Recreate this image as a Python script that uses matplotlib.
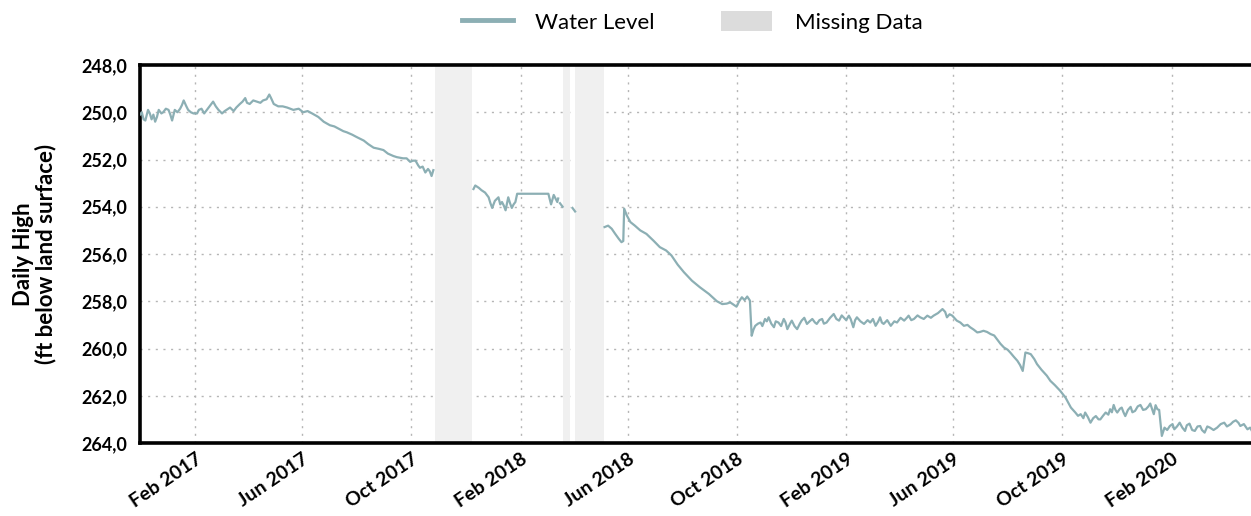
import matplotlib
matplotlib.use("Agg")
import matplotlib.pyplot as plt
import matplotlib.dates as mdates
from matplotlib.patches import Patch
from matplotlib.lines import Line2D
from matplotlib.ticker import FuncFormatter
import pandas as pd

plt.rcParams['font.family'] = ['Lato', 'DejaVu Sans']

START = "2016-12-01"

seg1_days = [0, 2, 4, 6, 9, 11, 13, 15, 17, 19, 21, 24, 26, 29, 32, 34, 36, 39, 42, 45,
             47, 49, 52, 54, 57, 60, 64, 66, 69, 72, 75, 78, 82, 85, 88, 92, 95, 97, 101,
             105, 108, 112, 115, 118, 120, 123, 127, 131, 135, 138, 142, 145, 147, 150,
             155, 160, 165, 172, 178, 183, 188, 193, 200, 206, 213, 218, 223, 228, 232,
             238, 243, 251, 256, 262, 268, 273, 278, 284, 288, 295, 299, 303, 306, 309,
             312, 314, 317, 320, 323, 325, 327, 329]
seg1_level = [250.1, 250.0, 250.3, 250.35, 249.9, 250.05, 250.3, 250.1, 250.4, 250.2,
              249.9, 250.05, 250.0, 249.85, 249.9, 250.1, 250.35, 249.9, 250.0, 249.85,
              249.7, 249.5, 249.75, 249.9, 250.0, 250.05, 250.05, 249.9, 249.85, 250.05,
              249.9, 249.75, 249.55, 249.75, 249.9, 250.05, 249.95, 249.9, 249.8, 249.95,
              249.8, 249.65, 249.55, 249.4, 249.6, 249.65, 249.5, 249.55, 249.6, 249.5,
              249.45, 249.25, 249.4, 249.65, 249.75, 249.75, 249.8, 249.9, 249.85, 250.0,
              249.95, 250.05, 250.2, 250.4, 250.55, 250.6, 250.7, 250.8, 250.85, 250.95,
              251.05, 251.2, 251.35, 251.5, 251.55, 251.6, 251.75, 251.85, 251.9, 251.95,
              251.95, 252.1, 252.05, 252.05, 252.25, 252.35, 252.3, 252.55, 252.4, 252.5,
              252.7, 252.45]

seg2_days = [374, 376, 378, 380, 383, 387, 391, 393, 395, 398, 402, 404, 406, 408, 410,
             413, 415, 417, 419, 421, 423, 426, 458, 461, 464, 468, 469]
seg2_level = [253.25, 253.1, 253.15, 253.2, 253.3, 253.4, 253.6, 253.85, 254.05, 253.75,
              253.6, 253.9, 253.8, 253.95, 254.15, 253.6, 253.85, 254.05, 253.9, 253.8,
              253.45, 253.45, 253.45, 253.9, 253.5, 253.8, 253.65]

dash1_days = [471, 474]
dash1_level = [253.85, 254.0]
dash2_days = [485, 488]
dash2_level = [254.05, 254.2]

seg3_days = [521, 525, 529, 533, 537, 540, 542, 543, 546, 550, 555, 561, 568, 576, 583,
             590, 596, 603, 610, 619, 628, 638, 647, 653, 658, 662, 666, 669, 672, 675,
             678, 681, 684, 686, 688, 690, 693, 696, 698, 701, 703, 705, 708, 711, 713,
             716, 719, 722, 724, 726, 729, 731, 734, 737, 740, 742, 745, 748, 751, 754,
             757, 759, 762, 765, 767, 770, 774, 778, 781, 784, 787, 789, 792, 795, 797,
             800, 802, 804, 808, 812, 816, 819, 822, 825, 828, 830, 832, 834, 838, 842,
             846, 849, 853, 857, 860, 862, 865, 868, 872, 875, 879, 883, 887, 890, 895,
             900, 903, 905, 908, 911, 916, 920, 924, 928, 931, 935, 939, 942, 946, 950,
             954, 958, 961, 965, 969, 973, 976, 980, 984, 987, 990, 993, 996, 999, 1003,
             1006, 1011, 1017, 1021, 1026, 1032, 1038, 1044, 1049, 1052, 1055, 1058, 1060,
             1063, 1066, 1069, 1072, 1075, 1077, 1080, 1083, 1086, 1088, 1090, 1092, 1094,
             1096, 1099, 1101, 1103, 1105, 1108, 1111, 1113, 1116, 1119, 1122, 1125, 1128,
             1131, 1133, 1135, 1137, 1139, 1141, 1143, 1146, 1149, 1152, 1155, 1158, 1160,
             1163, 1166, 1169, 1172, 1174, 1177, 1180, 1183, 1186, 1189, 1191, 1194, 1197,
             1200, 1204, 1208, 1212, 1216, 1219, 1223, 1226, 1229, 1232, 1234, 1238, 1242,
             1245, 1247]
seg3_level = [254.86, 254.8, 254.93, 255.15, 255.36, 255.5, 255.45, 254.08, 254.37, 254.65,
              254.8, 255.0, 255.15, 255.44, 255.71, 255.85, 256.06, 256.45, 256.77, 257.13,
              257.41, 257.69, 258.0, 258.12, 258.1, 258.05, 258.15, 258.23, 258.0, 257.83,
              257.95, 257.8, 257.97, 259.46, 259.2, 259.04, 258.95, 258.9, 259.05, 258.75,
              258.85, 258.68, 258.95, 259.1, 258.85, 258.9, 259.05, 258.75, 258.9, 259.18,
              258.95, 258.82, 259.05, 259.18, 258.95, 258.82, 258.7, 258.96, 258.85, 258.75,
              258.9, 258.96, 258.8, 258.75, 258.95, 258.9, 258.7, 258.54, 258.75, 258.82,
              258.6, 258.68, 258.8, 258.61, 258.75, 259.1, 258.8, 258.68, 258.85, 258.96,
              258.8, 258.9, 258.75, 259.04, 258.85, 258.68, 258.9, 258.96, 258.8, 259.04,
              258.85, 258.9, 258.7, 258.82, 258.7, 258.61, 258.8, 258.75, 258.6, 258.68,
              258.75, 258.61, 258.7, 258.61, 258.5, 258.33, 258.45, 258.68, 258.55, 258.61,
              258.82, 258.9, 259.04, 259.0, 259.1, 259.2, 259.32, 259.3, 259.25, 259.3,
              259.39, 259.45, 259.6, 259.8, 259.96, 260.05, 260.17, 260.35, 260.52, 260.7,
              260.95, 260.17, 260.2, 260.24, 260.45, 260.66, 260.9, 261.15, 261.37, 261.55,
              261.79, 262.08, 262.5, 262.71, 262.85, 262.78, 262.95, 262.71, 262.9, 263.14,
              262.95, 262.86, 263.0, 263.0, 262.85, 262.71, 262.8, 262.57, 262.7, 262.39,
              262.6, 262.71, 262.55, 262.5, 262.7, 262.86, 262.6, 262.47, 262.7, 262.64,
              262.45, 262.39, 262.6, 262.57, 262.45, 262.33, 262.55, 262.78, 262.4, 262.57,
              262.6, 263.7, 263.35, 263.45, 263.28, 263.2, 263.42, 263.3, 263.14, 263.35,
              263.49, 263.25, 263.18, 263.45, 263.49, 263.3, 263.28, 263.45, 263.56, 263.3,
              263.35, 263.45, 263.35, 263.2, 263.14, 263.3, 263.21, 263.1, 263.04, 263.15,
              263.28, 263.2, 263.42, 263.35, 263.49]

missing_start = ["2017-10-28", "2018-03-20", "2018-04-03"]
missing_end = ["2017-12-08", "2018-03-28", "2018-05-05"]

x_start = "2016-12-01"
x_end = "2020-04-30"
y_ticks = [248, 250, 252, 254, 256, 258, 260, 262, 264]

LINE_COLOR = "#8cafb4"
MISSING_COLOR = "#f0f0f0"

fig = plt.figure(figsize=(12.51, 5.16), dpi=100)
ax = fig.add_axes([140 / 1251, 1 - 443 / 516, 1 - 140 / 1251, (443 - 65) / 516])

base = pd.Timestamp(START)
for days, lev in [(seg1_days, seg1_level), (seg2_days, seg2_level),
                  (dash1_days, dash1_level), (dash2_days, dash2_level),
                  (seg3_days, seg3_level)]:
    d = base + pd.to_timedelta(days, unit="D")
    ax.plot(d, lev, color=LINE_COLOR, lw=1.6, solid_joinstyle="round", zorder=3)

for s, e in zip(missing_start, missing_end):
    ax.axvspan(pd.Timestamp(s), pd.Timestamp(e), color=MISSING_COLOR, lw=0, zorder=1)

ax.set_xlim(pd.Timestamp(x_start), pd.Timestamp(x_end))
ax.set_ylim(264, 248)
ax.set_yticks(y_ticks)
ax.yaxis.set_major_formatter(FuncFormatter(lambda v, p: f"{v:.1f}".replace(".", ",")))

ax.xaxis.set_major_locator(mdates.MonthLocator(bymonth=[2, 6, 10]))
ax.xaxis.set_major_formatter(mdates.DateFormatter("%b %Y"))

ax.grid(True, color="#b5b5b5", linestyle=(0, (1.5, 4)), linewidth=1.0, zorder=0)
ax.set_axisbelow(True)

for side in ["left", "top", "bottom"]:
    ax.spines[side].set_linewidth(2.6)
    ax.spines[side].set_color("black")
ax.spines["right"].set_visible(False)

ax.tick_params(axis="both", length=0)
ax.tick_params(axis="y", pad=9)
ax.tick_params(axis="x", pad=5)
for lab in ax.get_yticklabels():
    lab.set_fontsize(13)
    lab.set_fontweight("bold")
for lab in ax.get_xticklabels():
    lab.set_fontsize(14)
    lab.set_fontweight("bold")
    lab.set_rotation(34)
    lab.set_ha("right")
    lab.set_rotation_mode("anchor")

ax.set_ylabel("Daily High\n(ft below land surface)", fontsize=16, fontweight="bold",
              labelpad=18, linespacing=1.05)

handles = [Line2D([0], [0], color=LINE_COLOR, lw=3.5),
           Patch(facecolor="#dcdcdc", edgecolor="none")]
fig.legend(handles, ["Water Level", "Missing Data"], loc="center",
           bbox_to_anchor=(692 / 1251, 1 - 22 / 516), ncol=2, frameon=False,
           fontsize=16, handlelength=2.3, handleheight=1.0, handletextpad=1.0,
           columnspacing=3.0)

fig.savefig("out.png", dpi=100)
